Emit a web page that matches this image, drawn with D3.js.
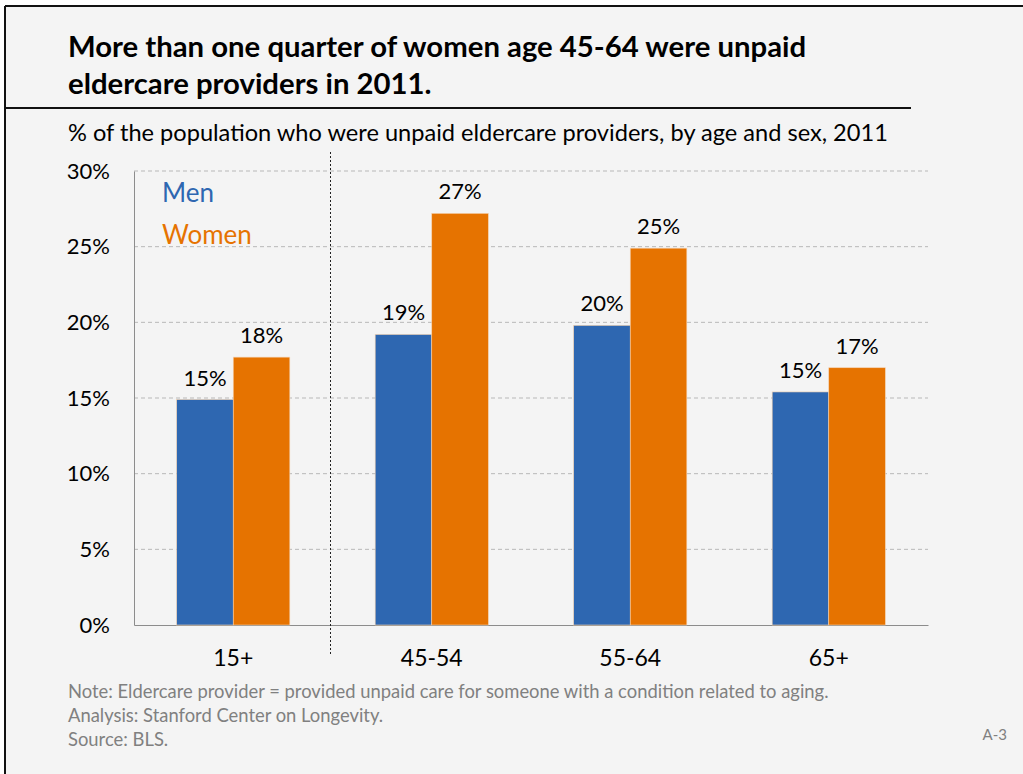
<!DOCTYPE html>
<html>
<head>
<meta charset="utf-8">
<script src="https://cdn.jsdelivr.net/npm/d3@7"></script>
<style>
  html, body { margin: 0; padding: 0; background: #ffffff; }
  svg { display: block; font-family: Lato, "Open Sans", sans-serif; }
</style>
</head>
<body>
<svg id="chart" width="1023" height="774"></svg>
<script>
// Unpaid eldercare providers, % of population by age group and sex, 2011
const categories = ["15+", "45-54", "55-64", "65+"];
const seriesNames = ["Men", "Women"];
const menValues = [14.9, 19.2, 19.8, 15.4];
const womenValues = [17.7, 27.2, 24.9, 17.0];
const yTicks = [0, 5, 10, 15, 20, 25, 30];

const titleLines = [
  "More than one quarter of women age 45-64 were unpaid",
  "eldercare providers in 2011."
];
const subtitle = "% of the population who were unpaid eldercare providers, by age and sex, 2011";
const notes = [
  "Note: Eldercare provider = provided unpaid care for someone with a condition related to aging.",
  "Analysis: Stanford Center on Longevity.",
  "Source: BLS."
];
const pageLabel = "A-3";

const colors = { Men: "#2e67b1", Women: "#e67300" };

const svg = d3.select("#chart");
const W = 1023, H = 774;

// slide background and frame
svg.append("rect").attr("x", 5).attr("y", 6).attr("width", W - 5).attr("height", H - 6)
  .attr("fill", "#f4f4f4");
svg.append("line").attr("x1", 5).attr("x2", W).attr("y1", 6).attr("y2", 6)
  .attr("stroke", "#111").attr("stroke-width", 2);
svg.append("line").attr("x1", 5).attr("x2", 5).attr("y1", 6).attr("y2", H)
  .attr("stroke", "#111").attr("stroke-width", 2);
svg.append("line").attr("x1", 5).attr("x2", 911).attr("y1", 108).attr("y2", 108)
  .attr("stroke", "#111").attr("stroke-width", 2);

// title
svg.append("g").selectAll("text").data(titleLines).join("text")
  .attr("x", 68).attr("y", (d, i) => 57 + i * 37)
  .attr("font-size", 29.3).attr("font-weight", 700).attr("fill", "#000")
  .text(d => d);

svg.append("text").attr("x", 68).attr("y", 141)
  .attr("font-size", 23.6).attr("fill", "#000").text(subtitle);

// plot
const margin = { left: 134, right: 1023 - 928, top: 171, bottom: 774 - 625 };
const x0 = d3.scaleBand().domain(categories).range([margin.left, 928]).paddingInner(0.43).paddingOuter(0.215);
const x1 = d3.scaleBand().domain(seriesNames).range([0, x0.bandwidth()]);
const y = d3.scaleLinear().domain([0, 30]).range([625, 171]);

// gridlines
svg.append("g").selectAll("line").data(yTicks.filter(t => t > 0)).join("line")
  .attr("x1", margin.left).attr("x2", 928)
  .attr("y1", d => y(d)).attr("y2", d => y(d))
  .attr("stroke", "#b8b8b8").attr("stroke-dasharray", "4,3").attr("stroke-width", 1);

// y axis
const yAxis = d3.axisLeft(y).tickValues(yTicks).tickFormat(d => d + "%").tickSize(0).tickPadding(24);
const yg = svg.append("g").attr("transform", `translate(${margin.left},0)`).call(yAxis);
yg.select(".domain").attr("stroke", "#8c8c8c");
yg.selectAll("text").attr("font-size", 22).attr("font-family", "Lato, sans-serif").attr("fill", "#000");

// x axis
const xAxis = d3.axisBottom(x0).tickSize(0).tickPadding(25);
const xg = svg.append("g").attr("transform", `translate(0,${y(0)})`).call(xAxis);
xg.select(".domain").attr("stroke", "#8c8c8c");
xg.selectAll("text").attr("font-size", 23).attr("font-family", "Lato, sans-serif").attr("fill", "#000");

// separator between the all-ages group and the age brackets
const sepX = (x0(categories[0]) + x0.bandwidth() + x0(categories[1])) / 2 - 2;
svg.append("line").attr("x1", sepX).attr("x2", sepX).attr("y1", 152).attr("y2", 656)
  .attr("stroke", "#222").attr("stroke-dasharray", "2,2").attr("stroke-width", 1);

// bars
const rows = categories.map((c, i) => ({
  category: c,
  values: [
    { key: "Men", value: menValues[i] },
    { key: "Women", value: womenValues[i] }
  ]
}));
const fmt = d => d3.format(".0f")(d) + "%";

const groups = svg.append("g").selectAll("g").data(rows).join("g")
  .attr("transform", d => `translate(${x0(d.category)},0)`);

groups.selectAll("rect").data(d => d.values).join("rect")
  .attr("x", d => x1(d.key)).attr("width", x1.bandwidth())
  .attr("y", d => y(d.value)).attr("height", d => y(0) - y(d.value))
  .attr("fill", d => colors[d.key])
  .attr("stroke", "#f4d2b0").attr("stroke-width", 0.6);

groups.selectAll("text").data(d => d.values).join("text")
  .attr("x", d => x1(d.key) + x1.bandwidth() / 2)
  .attr("y", d => y(d.value) - 14)
  .attr("text-anchor", "middle").attr("font-size", 22).attr("fill", "#000")
  .text(d => fmt(d.value));

// legend
svg.append("g").selectAll("text").data(seriesNames).join("text")
  .attr("x", 162).attr("y", (d, i) => 202 + i * 42)
  .attr("font-size", 26).attr("fill", d => colors[d])
  .text(d => d);

// notes
svg.append("g").selectAll("text").data(notes).join("text")
  .attr("x", 68).attr("y", (d, i) => 698 + i * 24)
  .attr("font-size", 18.4).attr("fill", "#808080").text(d => d);

svg.append("text").attr("x", 1007).attr("y", 740).attr("text-anchor", "end")
  .attr("font-size", 15).attr("fill", "#808080").text(pageLabel);
</script>
</body>
</html>
